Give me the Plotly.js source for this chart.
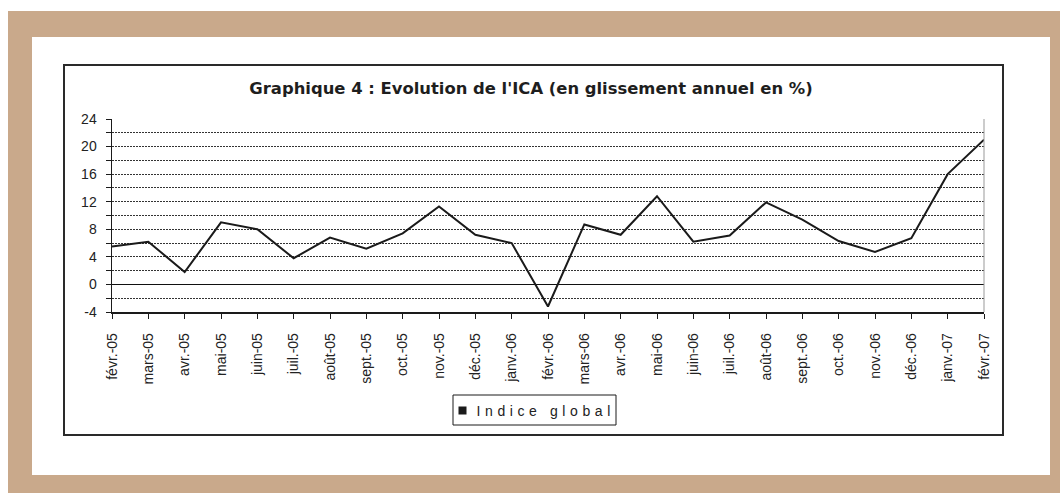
<!DOCTYPE html>
<html>
<head>
<meta charset="utf-8">
<script src="https://cdn.plot.ly/plotly-3.0.1.min.js"></script>
<style>
html,body{margin:0;padding:0;background:#fff;}
#chart{width:1060px;height:493px;}
.legendtext{letter-spacing:4.6px; transform:translateX(-6px);}
</style>
</head>
<body>
<div id="chart"></div>
<script>
// ---- data ----
const months = ["févr.-05","mars-05","avr.-05","mai-05","juin-05","juil.-05","août-05","sept.-05","oct.-05","nov.-05","déc.-05","janv.-06","févr.-06","mars-06","avr.-06","mai-06","juin-06","juil.-06","août-06","sept.-06","oct.-06","nov.-06","déc.-06","janv.-07","févr.-07"];
const indiceGlobal = [5.5,6.2,1.8,9.0,8.0,3.8,6.8,5.2,7.4,11.3,7.2,6.0,-3.2,8.7,7.2,12.8,6.2,7.1,11.9,9.4,6.3,4.7,6.7,16.0,21.0];
const seriesName = "Indice global";
const yLabels = [-4,0,4,8,12,16,20,24];
const titleText = "Graphique 4 : Evolution de l'ICA (en glissement annuel en %)";

// ---- layout helpers (pixel -> paper) ----
const W = 1060, H = 493;
const L = 112, R = 984, T = 119, B = 312;
const px = v => (v - L) / (R - L);
const py = v => (B - v) / (B - T);
const rect = (x0,y0,x1,y1,fill,line,layer) => ({type:'rect',xref:'paper',yref:'paper',layer:layer||'below',
  x0:px(x0),x1:px(x1),y0:py(y1),y1:py(y0),fillcolor:fill||'rgba(0,0,0,0)',line:line||{width:0}});

const traces = [
  {x: months, y: indiceGlobal, type:'scatter', mode:'lines', name: seriesName,
   line:{color:'#1a1a1a', width:2}, showlegend:false, hoverinfo:'x+y'},
  {x:[null], y:[null], type:'scatter', mode:'markers', name: seriesName,
   marker:{symbol:'square', size:8, color:'#1a1a1a'}, showlegend:true}
];

const layout = {
  width: W, height: H,
  margin:{l:L, r:W-R, t:T, b:H-B, pad:0},
  paper_bgcolor:'#ffffff', plot_bgcolor:'rgba(0,0,0,0)',
  title:{text:'<b>'+titleText+'</b>', x:px(531), xanchor:'center', xref:'paper',
         y:1-(88/H), yanchor:'middle', yref:'container',
         font:{family:'DejaVu Sans', size:16.4, color:'#1e1e1e'}},
  font:{family:'Liberation Sans, Arial, sans-serif', color:'#222'},
  xaxis:{type:'category', range:[0, months.length-1], showgrid:false, zeroline:false,
         showline:true, linecolor:'#1a1a1a', linewidth:1.5,
         ticks:'outside', ticklen:5, tickcolor:'#1a1a1a', tickwidth:1,
         tickangle:-90, tickfont:{size:14, family:'Liberation Sans', color:'#222'},
         ticklabelstandoff:9, fixedrange:true},
  yaxis:{range:[-4,24], tickvals:yLabels, ticktext:yLabels.map(String),
         showline:true, linecolor:'#1a1a1a', linewidth:1.5,
         ticks:'outside', ticklen:5, tickcolor:'#1a1a1a', tickwidth:1,
         showgrid:true, gridcolor:'#333', gridwidth:1, griddash:'2px,1px',
         zeroline:true, zerolinecolor:'#111', zerolinewidth:1.8,
         minor:{dtick:2, tick0:0, showgrid:true, gridcolor:'#333', gridwidth:1, griddash:'2px,1px',
                ticks:'outside', ticklen:5, tickcolor:'#1a1a1a', tickwidth:1},
         tickfont:{size:14, family:'Liberation Sans', color:'#222'}, ticklabelstandoff:6, fixedrange:true},
  legend:{orientation:'h', x:px(534.5), xanchor:'center', y:py(395), yanchor:'top',
          borderwidth:0, bgcolor:'rgba(0,0,0,0)',
          font:{size:14, family:'Liberation Sans', color:'#222'}, itemwidth:30},
  shapes:[
    rect(8,11,1060,493,'#c9a98b'),
    rect(32,37,1050,475,'#ffffff'),
    rect(64,65,1003,435,'rgba(0,0,0,0)',{color:'#2a2a2a',width:2}),
    rect(453,395,616,425,'#ffffff',{color:'#1a1a1a',width:1}),
    {type:'line',xref:'paper',yref:'paper',x0:1,x1:1,y0:0,y1:1,line:{color:'#999',width:1}}
  ],
  showlegend:true
};

Plotly.newPlot('chart', traces, layout, {displayModeBar:false, staticPlot:true});
</script>
</body>
</html>
